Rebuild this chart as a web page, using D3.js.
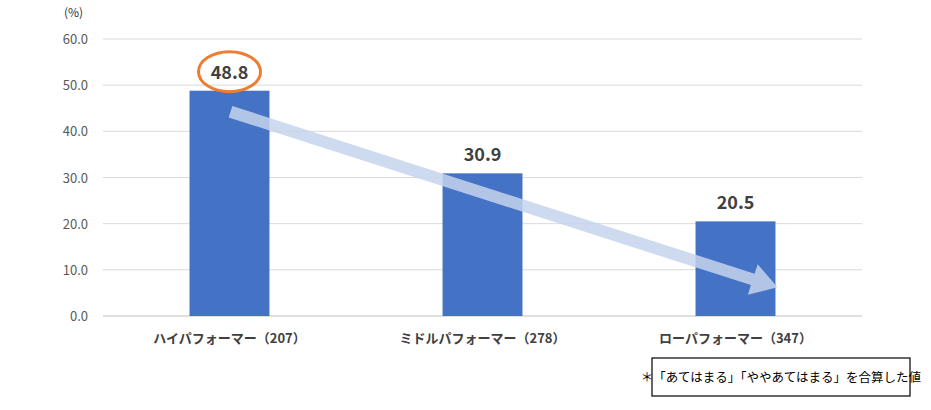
<!DOCTYPE html><html><head><meta charset="utf-8">
<script src="https://cdn.jsdelivr.net/npm/d3@7"></script>
<style>body{margin:0;background:#fff}svg{font-family:"Noto Sans CJK JP","Noto Sans",sans-serif}</style></head><body>
<svg id="c" width="931" height="410"></svg>
<script>
const categories=["ハイパフォーマー（207）","ミドルパフォーマー（278）","ローパフォーマー（347）"];
const values=[48.8,30.9,20.5];
const yTicks=[0,10,20,30,40,50,60];
const svg=d3.select("#c");
const x=d3.scaleBand().domain(categories).range([103,862]).paddingInner(0.684).paddingOuter(0.342);
const y=d3.scaleLinear().domain([0,60]).range([316,39]);
svg.append("g").selectAll("line").data(yTicks).join("line")
 .attr("x1",103).attr("x2",862).attr("y1",d=>y(d)).attr("y2",d=>y(d))
 .attr("stroke",d=>d===0?"#bfbfbf":"#d9d9d9");
svg.append("g").selectAll("text").data(yTicks).join("text")
 .attr("x",88).attr("y",d=>y(d)+5).attr("text-anchor","end").attr("font-size",13).attr("fill","#595959")
 .text(d=>d.toFixed(1));
svg.append("text").attr("x",64).attr("y",17).attr("font-size",12).attr("fill","#333").text("(%)");
svg.append("g").selectAll("rect").data(values).join("rect")
 .attr("x",(d,i)=>x(categories[i])).attr("width",x.bandwidth())
 .attr("y",d=>y(d)).attr("height",d=>y(0)-y(d)).attr("fill","#4472c4");
svg.append("g").selectAll("text").data(values).join("text")
 .attr("x",(d,i)=>x(categories[i])+x.bandwidth()/2).attr("y",d=>y(d)-12)
 .attr("text-anchor","middle").attr("font-size",18).attr("font-weight","bold").attr("fill","#404040")
 .text(d=>d.toFixed(1));
svg.append("g").selectAll("text").data(categories).join("text")
 .attr("x",d=>x(d)+x.bandwidth()/2).attr("y",343).attr("text-anchor","middle")
 .attr("font-size",13).attr("font-weight","bold").attr("fill","#404040").text(d=>d);
// ellipse highlight
const c0=x(categories[0])+x.bandwidth()/2;
svg.append("ellipse").attr("cx",c0).attr("cy",y(values[0])-19).attr("rx",31).attr("ry",20)
 .attr("fill","none").attr("stroke","#ed7d31").attr("stroke-width",3);
// trend arrow
const x1=c0+1,y1=y(values[0])+21,x2=x(categories[2])+x.bandwidth()/2+42,y2=y(values[2])+66;
const ang=Math.atan2(y2-y1,x2-x1),L=Math.hypot(x2-x1,y2-y1);
const g=svg.append("g").attr("transform",`translate(${x1},${y1}) rotate(${ang*180/Math.PI})`);
g.append("path").attr("d",`M0,-6 L${L-26},-6 L${L-26},-16 L${L},0 L${L-26},16 L${L-26},6 L0,6Z`)
 .attr("fill","#c5d3ed").attr("opacity",0.85);
// note
svg.append("rect").attr("x",652).attr("y",358).attr("width",258).attr("height",38).attr("fill","#fff").attr("stroke","#000").attr("stroke-width",1.2);
svg.append("text").attr("x",781).attr("y",382).attr("text-anchor","middle").attr("font-size",12.5).attr("fill","#000")
 .text("＊「あてはまる」「ややあてはまる」を合算した値");
</script></body></html>
